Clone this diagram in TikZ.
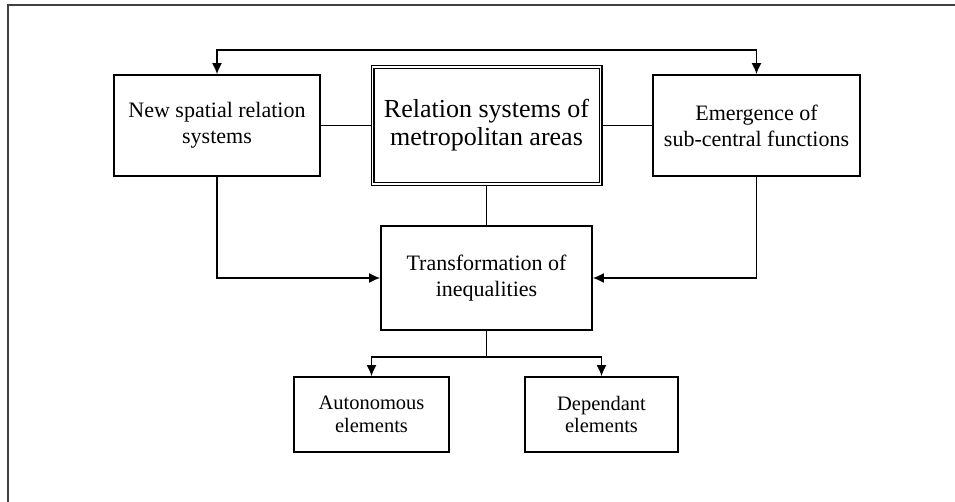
\documentclass[tikz,border=0pt]{standalone}
\usepackage{fontspec}
\setmainfont{Liberation Serif}
\usepackage{tikz}
\usetikzlibrary{shapes,arrows.meta}

\begin{document}
\begin{tikzpicture}[x=1pt,y=1pt,
                every path/.style={>={Latex[length=11pt,width=10pt]},line width=1.6pt},
                box/.style={draw,rectangle,align=center,inner sep=0pt,font=\fontsize{22}{26}\selectfont},
                mainbox/.style={box,double,double distance=1.8pt,line width=1.1pt,font=\fontsize{26}{28}\selectfont},
                small/.style={box,font=\fontsize{20.5}{22.5}\selectfont}]
  \useasboundingbox (0,0) rectangle (955,502);
  \draw[line width=1.6pt,black!75] (8,0) |- (955,497);
  \node[box,minimum width=206,minimum height=101]   (new)   at (217,376.5)   {New spatial relation\\systems};
  \node[mainbox,minimum width=228,minimum height=117] (rel) at (486.5,376.5) {Relation systems of\\metropolitan areas};
  \node[box,minimum width=207,minimum height=101]   (emer)  at (756.5,376.5) {Emergence of\\sub-central functions};
  \node[box,minimum width=211,minimum height=104]   (trans) at (486.5,224)   {Transformation of\\inequalities};
  \node[small,minimum width=155,minimum height=75]  (auto)  at (371.5,87.5)  {Autonomous\\elements};
  \node[small,minimum width=153,minimum height=75]  (dep)   at (601.5,87.5)  {Dependant\\elements};
  \coordinate (top)   at (486.5,452);
  \coordinate (split) at (486.5,145);
  \draw[<->] (new.north) |- (top) -| (emer.north);
  \draw (new) -- (rel);
  \draw (rel) -- (emer);
  \draw (rel) -- (trans);
  \draw[->] (new.south) |- (trans.west);
  \draw[->] (emer.south) |- (trans.east);
  \draw (trans) -- (split);
  \draw[->] (split) -| (auto.north);
  \draw[->] (split) -| (dep.north);
\end{tikzpicture}
\end{document}
